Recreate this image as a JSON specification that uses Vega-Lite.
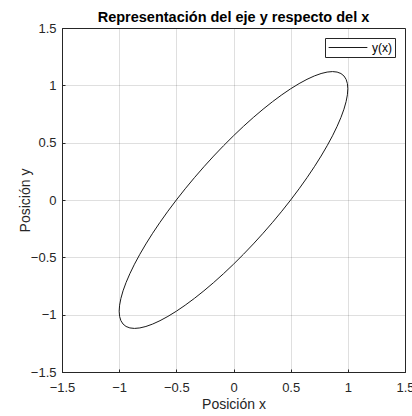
{
  "$schema": "https://vega.github.io/schema/vega-lite/v6.json",
  "width": 343,
  "height": 344,
  "autosize": {"type": "none"},
  "padding": {"left": 62, "top": 28, "right": 7, "bottom": 44},
  "background": "white",
  "title": {
    "text": "Representación del eje y respecto del x",
    "font": "Liberation Sans",
    "fontSize": 14.5,
    "fontWeight": "bold",
    "color": "#000000",
    "anchor": "middle",
    "frame": "group",
    "offset": -3
  },
  "config": {
    "view": {"stroke": "#262626", "strokeWidth": 1},
    "axis": {
      "domainColor": "#262626",
      "tickColor": "#262626",
      "labelColor": "#262626",
      "titleColor": "#262626",
      "labelFont": "Liberation Sans",
      "titleFont": "Liberation Sans",
      "labelFontSize": 13,
      "titleFontSize": 14,
      "titleFontWeight": "normal",
      "gridColor": "#262626",
      "gridOpacity": 0.15,
      "tickSize": -3,
      "labelFlush": false,
      "labelOverlap": false
    },
    "legend": {
      "labelFont": "Liberation Sans",
      "labelFontSize": 12,
      "labelColor": "#000000"
    }
  },
  "data": {
    "values": [
      {"t": 0, "x": 1, "y": 0.96995, "serie": "y(x)"},
      {"t": 5, "x": 0.99619, "y": 1.01507, "serie": "y(x)"},
      {"t": 10, "x": 0.98481, "y": 1.05245, "serie": "y(x)"},
      {"t": 15, "x": 0.96593, "y": 1.08184, "serie": "y(x)"},
      {"t": 20, "x": 0.93969, "y": 1.10299, "serie": "y(x)"},
      {"t": 25, "x": 0.90631, "y": 1.11573, "serie": "y(x)"},
      {"t": 30, "x": 0.86603, "y": 1.12, "serie": "y(x)"},
      {"t": 35, "x": 0.81915, "y": 1.11573, "serie": "y(x)"},
      {"t": 40, "x": 0.76604, "y": 1.10299, "serie": "y(x)"},
      {"t": 45, "x": 0.70711, "y": 1.08184, "serie": "y(x)"},
      {"t": 50, "x": 0.64279, "y": 1.05245, "serie": "y(x)"},
      {"t": 55, "x": 0.57358, "y": 1.01507, "serie": "y(x)"},
      {"t": 60, "x": 0.5, "y": 0.96995, "serie": "y(x)"},
      {"t": 65, "x": 0.42262, "y": 0.91745, "serie": "y(x)"},
      {"t": 70, "x": 0.34202, "y": 0.85796, "serie": "y(x)"},
      {"t": 75, "x": 0.25882, "y": 0.79196, "serie": "y(x)"},
      {"t": 80, "x": 0.17365, "y": 0.71992, "serie": "y(x)"},
      {"t": 85, "x": 0.08716, "y": 0.64241, "serie": "y(x)"},
      {"t": 90, "x": 0, "y": 0.56, "serie": "y(x)"},
      {"t": 95, "x": -0.08716, "y": 0.47333, "serie": "y(x)"},
      {"t": 100, "x": -0.17365, "y": 0.38306, "serie": "y(x)"},
      {"t": 105, "x": -0.25882, "y": 0.28988, "serie": "y(x)"},
      {"t": 110, "x": -0.34202, "y": 0.19449, "serie": "y(x)"},
      {"t": 115, "x": -0.42262, "y": 0.09762, "serie": "y(x)"},
      {"t": 120, "x": -0.5, "y": 0, "serie": "y(x)"},
      {"t": 125, "x": -0.57358, "y": -0.09762, "serie": "y(x)"},
      {"t": 130, "x": -0.64279, "y": -0.19449, "serie": "y(x)"},
      {"t": 135, "x": -0.70711, "y": -0.28988, "serie": "y(x)"},
      {"t": 140, "x": -0.76604, "y": -0.38306, "serie": "y(x)"},
      {"t": 145, "x": -0.81915, "y": -0.47333, "serie": "y(x)"},
      {"t": 150, "x": -0.86603, "y": -0.56, "serie": "y(x)"},
      {"t": 155, "x": -0.90631, "y": -0.64241, "serie": "y(x)"},
      {"t": 160, "x": -0.93969, "y": -0.71992, "serie": "y(x)"},
      {"t": 165, "x": -0.96593, "y": -0.79196, "serie": "y(x)"},
      {"t": 170, "x": -0.98481, "y": -0.85796, "serie": "y(x)"},
      {"t": 175, "x": -0.99619, "y": -0.91745, "serie": "y(x)"},
      {"t": 180, "x": -1, "y": -0.96995, "serie": "y(x)"},
      {"t": 185, "x": -0.99619, "y": -1.01507, "serie": "y(x)"},
      {"t": 190, "x": -0.98481, "y": -1.05245, "serie": "y(x)"},
      {"t": 195, "x": -0.96593, "y": -1.08184, "serie": "y(x)"},
      {"t": 200, "x": -0.93969, "y": -1.10299, "serie": "y(x)"},
      {"t": 205, "x": -0.90631, "y": -1.11573, "serie": "y(x)"},
      {"t": 210, "x": -0.86603, "y": -1.12, "serie": "y(x)"},
      {"t": 215, "x": -0.81915, "y": -1.11573, "serie": "y(x)"},
      {"t": 220, "x": -0.76604, "y": -1.10299, "serie": "y(x)"},
      {"t": 225, "x": -0.70711, "y": -1.08184, "serie": "y(x)"},
      {"t": 230, "x": -0.64279, "y": -1.05245, "serie": "y(x)"},
      {"t": 235, "x": -0.57358, "y": -1.01507, "serie": "y(x)"},
      {"t": 240, "x": -0.5, "y": -0.96995, "serie": "y(x)"},
      {"t": 245, "x": -0.42262, "y": -0.91745, "serie": "y(x)"},
      {"t": 250, "x": -0.34202, "y": -0.85796, "serie": "y(x)"},
      {"t": 255, "x": -0.25882, "y": -0.79196, "serie": "y(x)"},
      {"t": 260, "x": -0.17365, "y": -0.71992, "serie": "y(x)"},
      {"t": 265, "x": -0.08716, "y": -0.64241, "serie": "y(x)"},
      {"t": 270, "x": 0, "y": -0.56, "serie": "y(x)"},
      {"t": 275, "x": 0.08716, "y": -0.47333, "serie": "y(x)"},
      {"t": 280, "x": 0.17365, "y": -0.38306, "serie": "y(x)"},
      {"t": 285, "x": 0.25882, "y": -0.28988, "serie": "y(x)"},
      {"t": 290, "x": 0.34202, "y": -0.19449, "serie": "y(x)"},
      {"t": 295, "x": 0.42262, "y": -0.09762, "serie": "y(x)"},
      {"t": 300, "x": 0.5, "y": 0, "serie": "y(x)"},
      {"t": 305, "x": 0.57358, "y": 0.09762, "serie": "y(x)"},
      {"t": 310, "x": 0.64279, "y": 0.19449, "serie": "y(x)"},
      {"t": 315, "x": 0.70711, "y": 0.28988, "serie": "y(x)"},
      {"t": 320, "x": 0.76604, "y": 0.38306, "serie": "y(x)"},
      {"t": 325, "x": 0.81915, "y": 0.47333, "serie": "y(x)"},
      {"t": 330, "x": 0.86603, "y": 0.56, "serie": "y(x)"},
      {"t": 335, "x": 0.90631, "y": 0.64241, "serie": "y(x)"},
      {"t": 340, "x": 0.93969, "y": 0.71992, "serie": "y(x)"},
      {"t": 345, "x": 0.96593, "y": 0.79196, "serie": "y(x)"},
      {"t": 350, "x": 0.98481, "y": 0.85796, "serie": "y(x)"},
      {"t": 355, "x": 0.99619, "y": 0.91745, "serie": "y(x)"},
      {"t": 360, "x": 1, "y": 0.96995, "serie": "y(x)"}
    ]
  },
  "mark": {"type": "line", "strokeWidth": 1, "interpolate": "linear"},
  "encoding": {
    "x": {
      "field": "x",
      "type": "quantitative",
      "scale": {"domain": [-1.5, 1.5], "nice": false, "zero": false},
      "axis": {
        "title": "Posición x",
        "values": [-1.5, -1, -0.5, 0, 0.5, 1, 1.5],
        "format": "~g",
        "labelPadding": 12,
        "titlePadding": 3
      }
    },
    "y": {
      "field": "y",
      "type": "quantitative",
      "scale": {"domain": [-1.5, 1.5], "nice": false, "zero": false},
      "axis": {
        "title": "Posición y",
        "values": [-1.5, -1, -0.5, 0, 0.5, 1, 1.5],
        "format": "~g",
        "labelPadding": 9,
        "titlePadding": -2
      }
    },
    "order": {"field": "t", "type": "quantitative"},
    "color": {
      "field": "serie",
      "type": "nominal",
      "scale": {"range": ["#1a1a1a"]},
      "legend": {
        "title": null,
        "orient": "top-right",
        "offset": 10,
        "fillColor": "white",
        "strokeColor": "#262626",
        "padding": 3,
        "symbolType": "stroke",
        "symbolSize": 1500,
        "symbolStrokeWidth": 1,
        "clipHeight": 13,
        "labelOffset": 4
      }
    }
  }
}
